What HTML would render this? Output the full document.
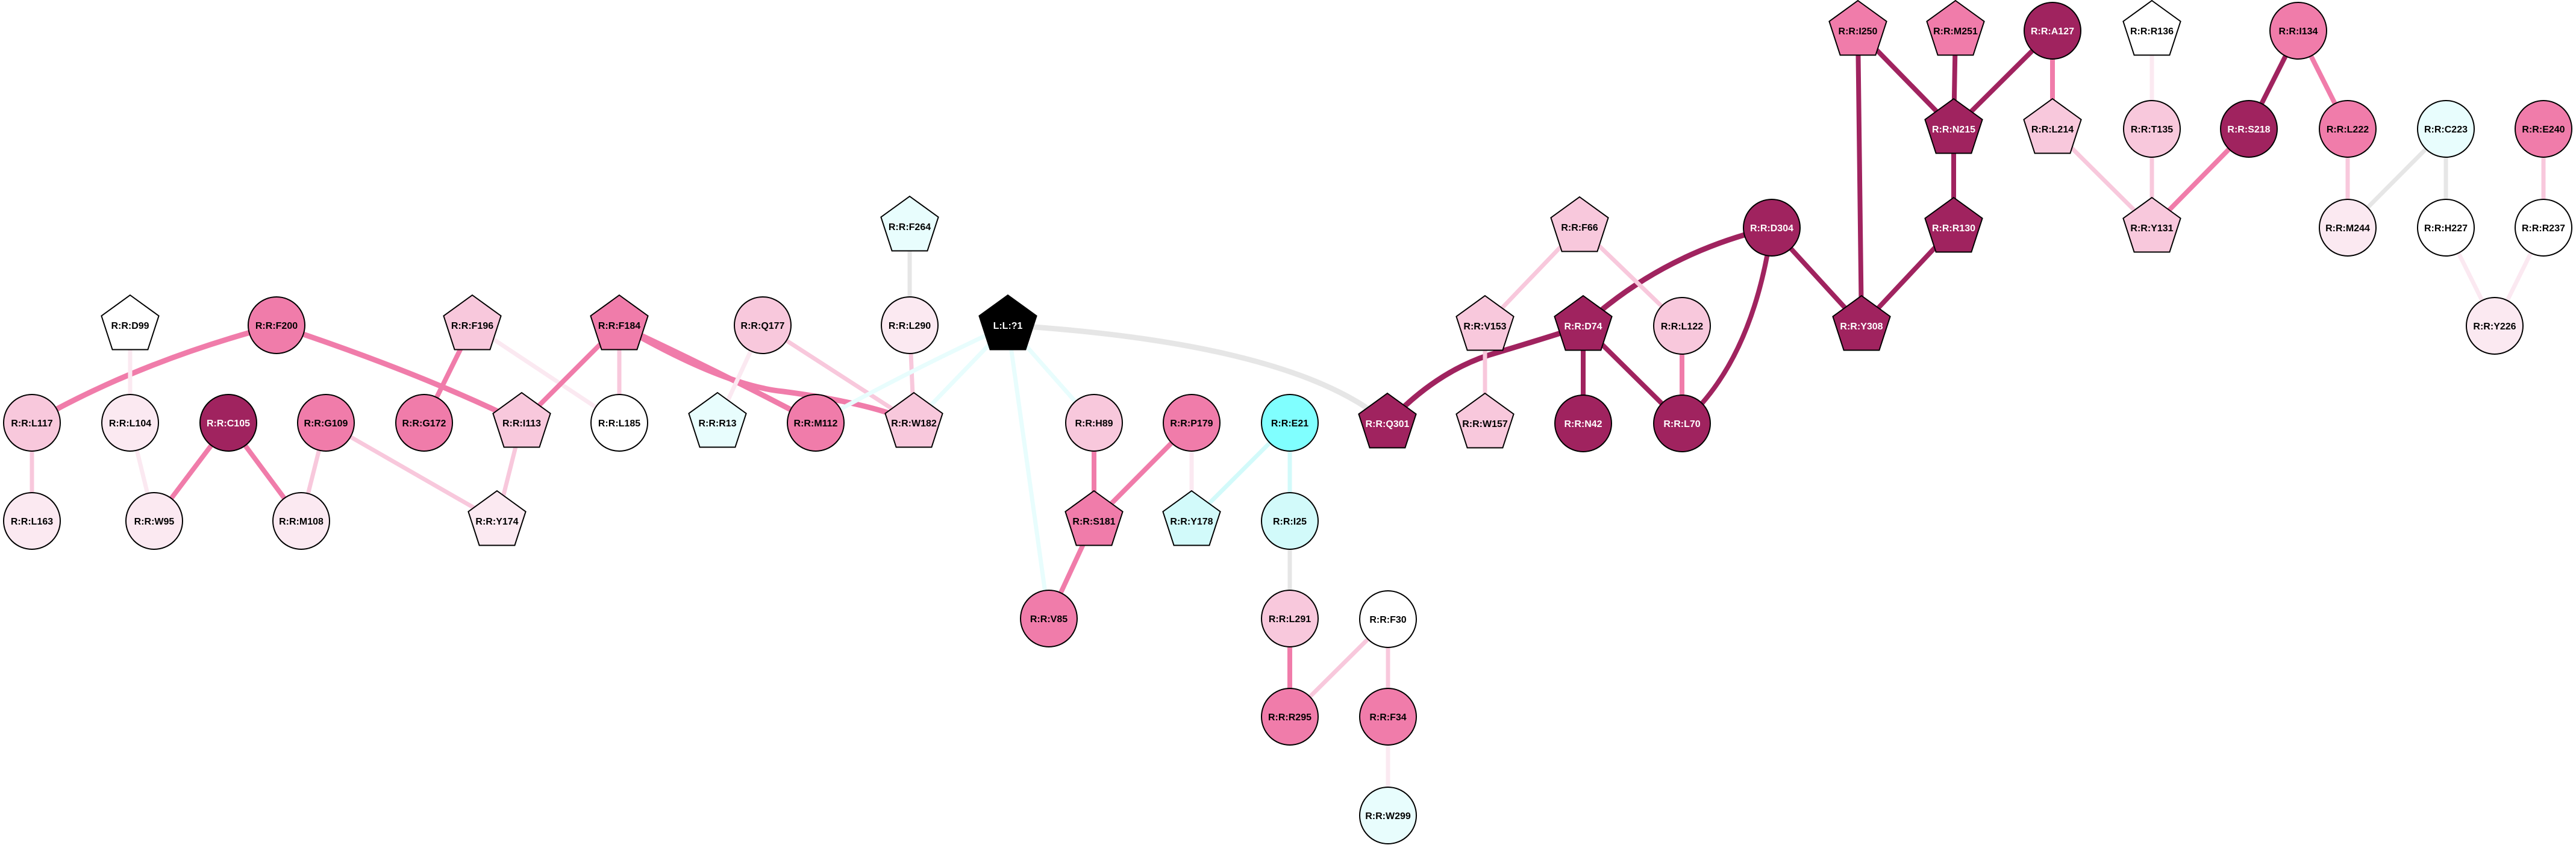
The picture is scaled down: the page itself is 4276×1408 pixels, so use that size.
<!DOCTYPE html>
<html><head><meta charset="utf-8"><style>
html,body{margin:0;padding:0;background:#fff}
svg{display:block}
text{font-family:"Liberation Sans",Arial,sans-serif;font-weight:bold;font-size:16px;text-anchor:middle}
.w{fill:#fff}
</style></head><body>
<svg width="4276" height="1408" viewBox="0 0 4276 1408" xmlns="http://www.w3.org/2000/svg">
<defs><polygon id="p" points="0,-50 47.6,-15.5 29.4,40.5 -29.4,40.5 -47.6,-15.5" stroke="#000" stroke-width="2"/></defs>
<g fill="none" stroke-linecap="butt">
<!-- left cluster -->
<path d="M459,540 Q230,600 53,702" stroke="#f07caa" stroke-width="9"/>
<path d="M459,540 Q700,620 866,702" stroke="#f07caa" stroke-width="9"/>
<line x1="216" y1="540" x2="216" y2="702" stroke="#fbe9f1" stroke-width="7"/>
<line x1="53" y1="702" x2="53" y2="865" stroke="#f8c8dc" stroke-width="7"/>
<line x1="216" y1="702" x2="256" y2="865" stroke="#fbe9f1" stroke-width="7"/>
<line x1="379" y1="702" x2="256" y2="865" stroke="#f07caa" stroke-width="8"/>
<line x1="379" y1="702" x2="500" y2="865" stroke="#f07caa" stroke-width="8"/>
<line x1="541" y1="702" x2="500" y2="865" stroke="#f8c8dc" stroke-width="7"/>
<line x1="541" y1="702" x2="825" y2="865" stroke="#f8c8dc" stroke-width="7"/>
<line x1="784" y1="540" x2="704" y2="702" stroke="#f07caa" stroke-width="8"/>
<line x1="784" y1="540" x2="1028" y2="702" stroke="#fbe9f1" stroke-width="7"/>
<line x1="1028" y1="540" x2="866" y2="702" stroke="#f07caa" stroke-width="8"/>
<line x1="1028" y1="540" x2="1028" y2="702" stroke="#f8c8dc" stroke-width="7"/>
<line x1="866" y1="702" x2="825" y2="865" stroke="#f8c8dc" stroke-width="7"/>
<path d="M1028,540 Q1200,620 1354,702" stroke="#f07caa" stroke-width="9"/>
<path d="M1028,540 Q1200,640 1300,650 Q1450,670 1517,702" stroke="#f07caa" stroke-width="9"/>
<line x1="1266" y1="540" x2="1191" y2="702" stroke="#fbe9f1" stroke-width="7"/>
<line x1="1266" y1="540" x2="1517" y2="702" stroke="#f8c8dc" stroke-width="7"/>
<line x1="1510" y1="376" x2="1510" y2="540" stroke="#e6e6e6" stroke-width="7"/>
<line x1="1510" y1="540" x2="1517" y2="702" stroke="#f8c8dc" stroke-width="7"/>
<path d="M1673,540 Q1500,620 1354,702" stroke="#e8fdfd" stroke-width="7"/>
<line x1="1673" y1="540" x2="1517" y2="702" stroke="#e8fdfd" stroke-width="7"/>
<line x1="1673" y1="540" x2="1816" y2="702" stroke="#e8fdfd" stroke-width="7"/>
<line x1="1673" y1="540" x2="1741" y2="1027" stroke="#e8fdfd" stroke-width="7"/>
<path d="M1673,540 Q2150,570 2303,703" stroke="#e6e6e6" stroke-width="9"/>
<line x1="1816" y1="702" x2="1816" y2="865" stroke="#f07caa" stroke-width="8"/>
<line x1="1978" y1="702" x2="1816" y2="865" stroke="#f07caa" stroke-width="8"/>
<line x1="1816" y1="865" x2="1741" y2="1027" stroke="#f07caa" stroke-width="8"/>
<line x1="1978" y1="702" x2="1978" y2="865" stroke="#fbe9f1" stroke-width="7"/>
<line x1="2141" y1="702" x2="1978" y2="865" stroke="#d2fafa" stroke-width="7"/>
<line x1="2141" y1="702" x2="2141" y2="865" stroke="#d2fafa" stroke-width="7"/>
<line x1="2141" y1="865" x2="2141" y2="1027" stroke="#e6e6e6" stroke-width="7"/>
<line x1="2141" y1="1027" x2="2141" y2="1190" stroke="#f07caa" stroke-width="8"/>
<line x1="2141" y1="1190" x2="2304" y2="1028" stroke="#f8c8dc" stroke-width="7"/>
<line x1="2304" y1="1028" x2="2304" y2="1190" stroke="#f8c8dc" stroke-width="7"/>
<line x1="2304" y1="1190" x2="2304" y2="1354" stroke="#fbe9f1" stroke-width="7"/>
<!-- right cluster -->
<path d="M2303,703 Q2380,620 2470,590 Q2570,560 2628,541" stroke="#a0235f" stroke-width="9"/>
<path d="M2628,541 Q2760,420 2941,378" stroke="#a0235f" stroke-width="9"/>
<line x1="2628" y1="541" x2="2628" y2="703" stroke="#a0235f" stroke-width="8"/>
<line x1="2628" y1="541" x2="2792" y2="703" stroke="#a0235f" stroke-width="8"/>
<path d="M2941,378 Q2910,600 2792,703" stroke="#a0235f" stroke-width="8"/>
<line x1="2941" y1="378" x2="3090" y2="541" stroke="#a0235f" stroke-width="8"/>
<line x1="2622" y1="377" x2="2465" y2="541" stroke="#f8c8dc" stroke-width="7"/>
<line x1="2622" y1="377" x2="2792" y2="541" stroke="#f8c8dc" stroke-width="7"/>
<line x1="2465" y1="541" x2="2465" y2="703" stroke="#f8c8dc" stroke-width="7"/>
<line x1="2792" y1="541" x2="2792" y2="703" stroke="#f07caa" stroke-width="8"/>
<line x1="3084" y1="51" x2="3090" y2="541" stroke="#a0235f" stroke-width="8"/>
<line x1="3084" y1="51" x2="3243" y2="214" stroke="#a0235f" stroke-width="8"/>
<line x1="3246" y1="51" x2="3243" y2="214" stroke="#a0235f" stroke-width="8"/>
<line x1="3407" y1="51" x2="3243" y2="214" stroke="#a0235f" stroke-width="8"/>
<line x1="3407" y1="51" x2="3407" y2="214" stroke="#f07caa" stroke-width="8"/>
<line x1="3243" y1="214" x2="3243" y2="378" stroke="#a0235f" stroke-width="8"/>
<line x1="3243" y1="378" x2="3090" y2="541" stroke="#a0235f" stroke-width="8"/>
<line x1="3572" y1="51" x2="3572" y2="214" stroke="#fbe9f1" stroke-width="7"/>
<line x1="3572" y1="214" x2="3572" y2="378" stroke="#f8c8dc" stroke-width="7"/>
<line x1="3407" y1="214" x2="3572" y2="378" stroke="#f8c8dc" stroke-width="7"/>
<line x1="3733" y1="214" x2="3572" y2="378" stroke="#f07caa" stroke-width="8"/>
<line x1="3815" y1="51" x2="3733" y2="214" stroke="#a0235f" stroke-width="8"/>
<line x1="3815" y1="51" x2="3897" y2="214" stroke="#f07caa" stroke-width="8"/>
<line x1="3897" y1="214" x2="3897" y2="378" stroke="#f8c8dc" stroke-width="7"/>
<line x1="4060" y1="214" x2="3897" y2="378" stroke="#e6e6e6" stroke-width="7"/>
<line x1="4060" y1="214" x2="4060" y2="378" stroke="#e6e6e6" stroke-width="7"/>
<line x1="4222" y1="214" x2="4222" y2="378" stroke="#f8c8dc" stroke-width="7"/>
<line x1="4060" y1="378" x2="4141" y2="541" stroke="#fbe9f1" stroke-width="7"/>
<line x1="4222" y1="378" x2="4141" y2="541" stroke="#fbe9f1" stroke-width="7"/>
</g>
<g stroke="#000" stroke-width="2">
<!-- circles -->
<circle cx="459" cy="540" r="47" fill="#f07caa"/>
<circle cx="1266" cy="540" r="47" fill="#f8c8dc"/>
<circle cx="1510" cy="540" r="47" fill="#fbe9f1"/>
<circle cx="53" cy="702" r="47" fill="#f8c8dc"/>
<circle cx="216" cy="702" r="47" fill="#fbe9f1"/>
<circle cx="379" cy="702" r="47" fill="#a0235f"/>
<circle cx="541" cy="702" r="47" fill="#f07caa"/>
<circle cx="704" cy="702" r="47" fill="#f07caa"/>
<circle cx="1028" cy="702" r="47" fill="#fff"/>
<circle cx="1354" cy="702" r="47" fill="#f07caa"/>
<circle cx="1816" cy="702" r="47" fill="#f8c8dc"/>
<circle cx="1978" cy="702" r="47" fill="#f07caa"/>
<circle cx="2141" cy="702" r="47" fill="#80ffff"/>
<circle cx="53" cy="865" r="47" fill="#fbe9f1"/>
<circle cx="256" cy="865" r="47" fill="#fbe9f1"/>
<circle cx="500" cy="865" r="47" fill="#fbe9f1"/>
<circle cx="2141" cy="865" r="47" fill="#d2fafa"/>
<circle cx="1741" cy="1027" r="47" fill="#f07caa"/>
<circle cx="2141" cy="1027" r="47" fill="#f8c8dc"/>
<circle cx="2304" cy="1028" r="47" fill="#fff"/>
<circle cx="2141" cy="1190" r="47" fill="#f07caa"/>
<circle cx="2304" cy="1190" r="47" fill="#f07caa"/>
<circle cx="2304" cy="1354" r="47" fill="#e8fdfd"/>
<circle cx="2941" cy="378" r="47" fill="#a0235f"/>
<circle cx="2792" cy="541" r="47" fill="#f8c8dc"/>
<circle cx="2628" cy="703" r="47" fill="#a0235f"/>
<circle cx="2792" cy="703" r="47" fill="#a0235f"/>
<circle cx="3407" cy="51" r="47" fill="#a0235f"/>
<circle cx="3815" cy="51" r="47" fill="#f07caa"/>
<circle cx="3572" cy="214" r="47" fill="#f8c8dc"/>
<circle cx="3733" cy="214" r="47" fill="#a0235f"/>
<circle cx="3897" cy="214" r="47" fill="#f07caa"/>
<circle cx="4060" cy="214" r="47" fill="#e8fdfd"/>
<circle cx="4222" cy="214" r="47" fill="#f07caa"/>
<circle cx="3897" cy="378" r="47" fill="#fbe9f1"/>
<circle cx="4060" cy="378" r="47" fill="#fff"/>
<circle cx="4222" cy="378" r="47" fill="#fff"/>
<circle cx="4141" cy="541" r="47" fill="#fbe9f1"/>
</g>
<!-- pentagons -->
<use href="#p" x="216" y="540" fill="#fff"/>
<use href="#p" x="784" y="540" fill="#f8c8dc"/>
<use href="#p" x="1028" y="540" fill="#f07caa"/>
<use href="#p" x="1510" y="376" fill="#e8fdfd"/>
<use href="#p" x="1673" y="540" fill="#000"/>
<use href="#p" x="866" y="702" fill="#f8c8dc"/>
<use href="#p" x="1191" y="702" fill="#e8fdfd"/>
<use href="#p" x="1517" y="702" fill="#f8c8dc"/>
<use href="#p" x="825" y="865" fill="#fbe9f1"/>
<use href="#p" x="1816" y="865" fill="#f07caa"/>
<use href="#p" x="1978" y="865" fill="#d2fafa"/>
<use href="#p" x="2622" y="377" fill="#f8c8dc"/>
<use href="#p" x="2465" y="541" fill="#f8c8dc"/>
<use href="#p" x="2628" y="541" fill="#a0235f"/>
<use href="#p" x="3090" y="541" fill="#a0235f"/>
<use href="#p" x="2303" y="703" fill="#a0235f"/>
<use href="#p" x="2465" y="703" fill="#f8c8dc"/>
<use href="#p" x="3084" y="51" fill="#f07caa"/>
<use href="#p" x="3246" y="51" fill="#f07caa"/>
<use href="#p" x="3572" y="51" fill="#fff"/>
<use href="#p" x="3243" y="214" fill="#a0235f"/>
<use href="#p" x="3407" y="214" fill="#f8c8dc"/>
<use href="#p" x="3243" y="378" fill="#a0235f"/>
<use href="#p" x="3572" y="378" fill="#f8c8dc"/>
<!-- labels -->
<g>
<text x="216" y="546">R:R:D99</text>
<text x="459" y="546">R:R:F200</text>
<text x="784" y="546">R:R:F196</text>
<text x="1028" y="546">R:R:F184</text>
<text x="1266" y="546">R:R:Q177</text>
<text x="1510" y="382">R:R:F264</text>
<text x="1510" y="546">R:R:L290</text>
<text class="w" x="1673" y="546">L:L:?1</text>
<text x="53" y="708">R:R:L117</text>
<text x="216" y="708">R:R:L104</text>
<text class="w" x="379" y="708">R:R:C105</text>
<text x="541" y="708">R:R:G109</text>
<text x="704" y="708">R:R:G172</text>
<text x="866" y="708">R:R:I113</text>
<text x="1028" y="708">R:R:L185</text>
<text x="1191" y="708">R:R:R13</text>
<text x="1354" y="708">R:R:M112</text>
<text x="1517" y="708">R:R:W182</text>
<text x="1816" y="708">R:R:H89</text>
<text x="1978" y="708">R:R:P179</text>
<text x="2141" y="708">R:R:E21</text>
<text x="53" y="871">R:R:L163</text>
<text x="256" y="871">R:R:W95</text>
<text x="500" y="871">R:R:M108</text>
<text x="825" y="871">R:R:Y174</text>
<text x="1816" y="871">R:R:S181</text>
<text x="1978" y="871">R:R:Y178</text>
<text x="2141" y="871">R:R:I25</text>
<text x="1741" y="1033">R:R:V85</text>
<text x="2141" y="1033">R:R:L291</text>
<text x="2304" y="1034">R:R:F30</text>
<text x="2141" y="1196">R:R:R295</text>
<text x="2304" y="1196">R:R:F34</text>
<text x="2304" y="1360">R:R:W299</text>
<text x="2622" y="383">R:R:F66</text>
<text class="w" x="2941" y="384">R:R:D304</text>
<text x="2465" y="547">R:R:V153</text>
<text class="w" x="2628" y="547">R:R:D74</text>
<text x="2792" y="547">R:R:L122</text>
<text class="w" x="3090" y="547">R:R:Y308</text>
<text class="w" x="2303" y="709">R:R:Q301</text>
<text x="2465" y="709">R:R:W157</text>
<text class="w" x="2628" y="709">R:R:N42</text>
<text class="w" x="2792" y="709">R:R:L70</text>
<text x="3084" y="57">R:R:I250</text>
<text x="3246" y="57">R:R:M251</text>
<text class="w" x="3407" y="57">R:R:A127</text>
<text x="3572" y="57">R:R:R136</text>
<text x="3815" y="57">R:R:I134</text>
<text class="w" x="3243" y="220">R:R:N215</text>
<text x="3407" y="220">R:R:L214</text>
<text x="3572" y="220">R:R:T135</text>
<text class="w" x="3733" y="220">R:R:S218</text>
<text x="3897" y="220">R:R:L222</text>
<text x="4060" y="220">R:R:C223</text>
<text x="4222" y="220">R:R:E240</text>
<text class="w" x="3243" y="384">R:R:R130</text>
<text x="3572" y="384">R:R:Y131</text>
<text x="3897" y="384">R:R:M244</text>
<text x="4060" y="384">R:R:H227</text>
<text x="4222" y="384">R:R:R237</text>
<text x="4141" y="547">R:R:Y226</text>
</g>
</svg>
</body></html>
